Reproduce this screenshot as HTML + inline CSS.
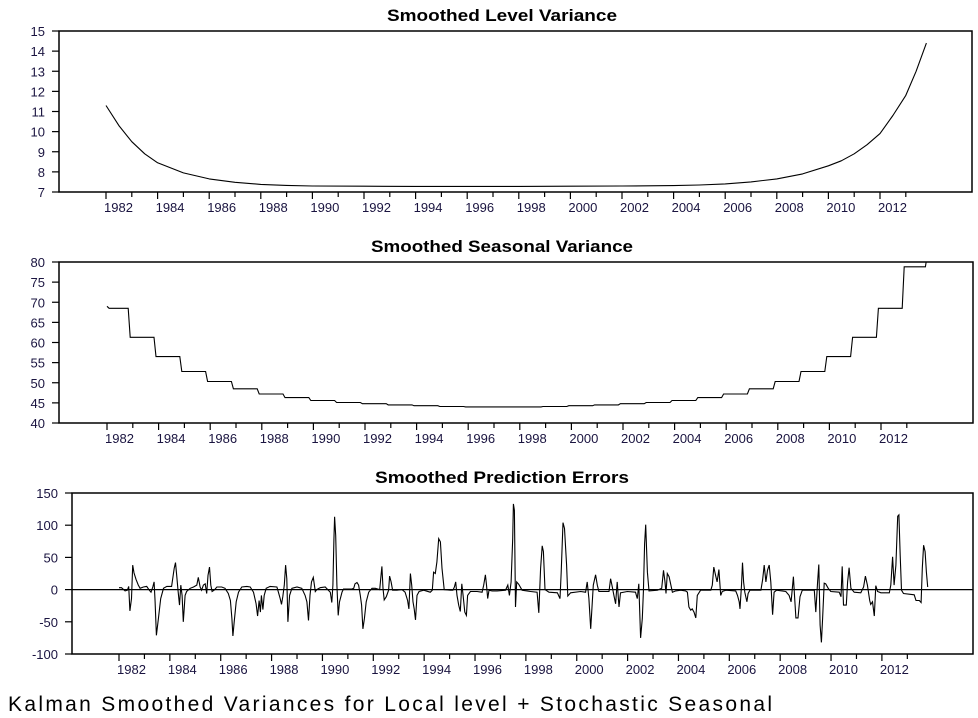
<!DOCTYPE html>
<html><head><meta charset="utf-8"><style>
body{margin:0;background:#fff}
svg{display:block;font-family:"Liberation Sans",Arial,sans-serif}
</style></head><body>
<svg id="c" width="978" height="718" viewBox="0 0 978 718">
<text x="387" y="21" font-size="17" font-weight="bold" textLength="230" lengthAdjust="spacingAndGlyphs">Smoothed Level Variance</text>
<text x="371" y="252" font-size="17" font-weight="bold" textLength="262" lengthAdjust="spacingAndGlyphs">Smoothed Seasonal Variance</text>
<text x="375" y="483" font-size="17" font-weight="bold" textLength="254" lengthAdjust="spacingAndGlyphs">Smoothed Prediction Errors</text>
<text x="8" y="711" font-size="21" textLength="764" lengthAdjust="spacing">Kalman Smoothed Variances for Local level + Stochastic Seasonal</text>
</svg>
<script>
// Top panel: smoothed level variance
const levelYears=[1982,1982.5,1983,1983.5,1984,1985,1986,1987,1988,1989,1990,1992,1994,1996,1998,2000,2002,2004,2005,2006,2007,2008,2009,2010,2010.5,2011,2011.5,2012,2012.5,2013,2013.4,2013.8];
const levelVals=[11.3,10.3,9.5,8.9,8.45,7.95,7.65,7.48,7.38,7.33,7.3,7.29,7.28,7.28,7.28,7.29,7.3,7.32,7.35,7.4,7.5,7.65,7.9,8.3,8.55,8.9,9.35,9.9,10.8,11.8,13.0,14.4];
const levelTicks=[7,8,9,10,11,12,13,14,15];
// Middle panel: seasonal variance, one level per year (step at ~year+0.85)
const seasYears=[1982,1983,1984,1985,1986,1987,1988,1989,1990,1991,1992,1993,1994,1995,1996,1997,1998,1999,2000,2001,2002,2003,2004,2005,2006,2007,2008,2009,2010,2011,2012,2013];
const seasVals=[68.5,61.3,56.5,52.8,50.3,48.5,47.2,46.3,45.6,45.1,44.8,44.5,44.3,44.1,44.0,44.0,44.0,44.1,44.3,44.5,44.8,45.1,45.6,46.3,47.2,48.5,50.3,52.8,56.5,61.3,68.5,78.8];
const seasTicks=[40,45,50,55,60,65,70,75,80];
// Bottom panel: prediction errors (year offsets from 1982, values)
const errT=[0,.10,.24,.33,.38,.43,.49,.54,.59,.67,.76,.83,.96,1.09,1.19,1.26,1.33,1.38,1.42,1.47,1.55,1.64,1.75,1.88,2.07,2.17,2.22,2.27,2.32,2.38,2.43,2.48,2.53,2.60,2.66,2.80,2.93,3.06,3.12,3.19,3.25,3.32,3.39,3.45,3.50,3.56,3.61,3.66,3.74,3.85,4.04,4.17,4.30,4.38,4.44,4.48,4.53,4.61,4.70,4.83,5.03,5.16,5.29,5.39,5.45,5.51,5.56,5.60,5.66,5.71,5.79,5.94,6.21,6.27,6.34,6.39,6.44,6.50,6.55,6.60,6.64,6.71,6.80,7.00,7.19,7.32,7.39,7.45,7.51,7.57,7.64,7.72,7.78,7.91,8.11,8.31,8.37,8.41,8.45,8.48,8.52,8.57,8.62,8.67,8.77,8.83,9.16,9.23,9.28,9.36,9.42,9.49,9.54,9.59,9.65,9.72,9.82,9.95,10.08,10.25,10.30,10.34,10.38,10.43,10.51,10.60,10.64,10.70,10.76,10.93,11.13,11.25,11.35,11.40,11.46,11.51,11.56,11.61,11.66,11.72,11.80,11.98,12.24,12.32,12.37,12.44,12.50,12.57,12.64,12.70,12.79,13.03,13.13,13.19,13.24,13.29,13.36,13.42,13.48,13.53,13.60,13.66,13.71,13.82,14.08,14.28,14.34,14.41,14.45,14.50,14.55,14.67,14.87,15.20,15.29,15.35,15.42,15.48,15.51,15.55,15.59,15.64,15.72,15.85,16.18,16.44,16.51,16.58,16.64,16.69,16.75,16.91,17.24,17.34,17.39,17.46,17.52,17.60,17.65,17.76,18.15,18.35,18.41,18.48,18.55,18.59,18.65,18.74,18.81,18.87,19.27,19.33,19.40,19.46,19.53,19.59,19.66,19.72,19.99,20.31,20.38,20.44,20.51,20.58,20.62,20.67,20.71,20.78,20.84,21.17,21.34,21.41,21.47,21.51,21.56,21.63,21.69,21.76,21.89,22.09,22.28,22.35,22.41,22.48,22.54,22.61,22.68,22.74,22.87,23.27,23.33,23.39,23.46,23.52,23.59,23.66,23.72,23.86,24.25,24.32,24.39,24.42,24.48,24.52,24.56,24.61,24.69,24.74,24.81,25.24,25.31,25.37,25.44,25.50,25.57,25.63,25.70,25.76,25.86,26.22,26.35,26.43,26.52,26.57,26.62,26.70,26.78,26.87,27.34,27.40,27.47,27.52,27.57,27.62,27.67,27.73,27.79,27.89,27.99,28.32,28.39,28.44,28.49,28.60,28.65,28.71,28.78,28.91,29.17,29.28,29.35,29.43,29.52,29.56,29.63,29.70,29.76,29.83,29.96,30.29,30.35,30.42,30.48,30.55,30.62,30.67,30.72,30.77,30.85,31.27,31.34,31.47,31.54,31.59,31.64,31.70,31.75,31.80];
const errVals=[3,3,-2,-1,5,-33,-14,38,26,16,7,2,4,5,-1,-4,4,12,-19,-71,-45,-14,2,5,5,33,42,22,-1,-24,7,-9,-50,-9,-3,2,4,7,19,4,-1,7,9,-6,22,35,7,-3,-1,4,4,2,-6,-17,-45,-72,-50,-19,-4,4,5,4,-4,-22,-41,-17,-35,-9,-31,-9,2,5,4,-4,-14,-23,-11,7,38,17,-50,-9,2,4,2,-9,-19,-48,-9,12,19,-3,0,3,4,-4,-20,7,77,113,84,7,-40,-19,-4,1,1,2,9,11,7,-9,-24,-61,-45,-19,-4,2,2,0,20,36,2,-16,-11,-1,21,12,-1,-1,0,-4,-17,-30,25,7,-19,-30,-47,-9,-3,-1,-4,-1,27,25,43,79,74,33,0,-1,-1,4,12,-9,-24,-34,9,-9,-35,-40,-9,-3,-3,-4,7,23,7,-14,-1,-2,-2,-1,7,-9,12,79,133,123,-27,12,8,-1,-3,-4,-36,33,68,59,0,-4,-5,-14,27,104,95,38,-10,-5,-3,-4,12,-14,-61,-35,7,23,7,-3,-3,17,4,-9,-22,12,-27,-5,-3,-4,-14,9,-75,-45,-3,71,101,27,-2,-1,2,30,12,-6,25,20,9,-4,-2,-1,-2,-4,-27,-32,-30,-35,-44,-9,-1,-1,7,35,22,12,31,-9,-3,-1,-2,-9,-19,-30,7,42,12,-4,-19,-6,-1,-1,15,38,12,30,38,12,-39,-4,-1,-3,-9,-19,20,-14,-44,-44,-11,-1,-1,-35,12,39,-55,-82,-45,10,9,2,-3,-4,-11,36,-24,-24,12,34,2,-4,-5,4,21,7,-17,-23,-19,-41,6,-3,-5,-5,7,51,7,38,114,116,53,-1,-6,-8,-17,-17,-20,33,69,59,27,4];
const errTicks=[-100,-50,0,50,100,150];
const yearLabels=[1982,1984,1986,1988,1990,1992,1994,1996,1998,2000,2002,2004,2006,2008,2010,2012];
const minorYears=[1983,1985,1987,1989,1991,1993,1995,1997,1999,2001,2003,2005,2007,2009,2011,2013];

const NS='http://www.w3.org/2000/svg';
const svg=document.getElementById('c');
function mk(tag,attrs,parent){const e=document.createElementNS(NS,tag);for(const k in attrs)e.setAttribute(k,attrs[k]);(parent||svg).appendChild(e);return e;}

function panel(name,box,x1982,pxYear,yTicks,yMin,yMax){
  const g=mk('g',{});
  
  
  const xs=y=>x1982+(y-1982)*pxYear;
  const ys=v=>box.b-(v-yMin)/(yMax-yMin)*(box.b-box.t);
  const frame=mk('rect',{x:box.l,y:box.t,width:box.r-box.l,height:box.b-box.t,fill:'none',stroke:'#000','stroke-width':1.5},g);
  
  
  yTicks.forEach(v=>{
    const y=ys(v);
    mk('line',{x1:box.l-7,x2:box.l,y1:y,y2:y,stroke:'#000','stroke-width':1.2},g);
    const t=mk('text',{x:box.l-14,y:y+5,'font-size':13,'text-anchor':'end',fill:'#1a1440'},g);
    t.textContent=v;
    
    
  });
  yearLabels.forEach(yr=>{
    const x=xs(yr);
    mk('line',{x1:x,x2:x,y1:box.b,y2:box.b+7,stroke:'#000','stroke-width':1.2},g);
    const t=mk('text',{x:x-2,y:box.b+20,'font-size':13,fill:'#1a1440'},g);
    t.textContent=yr;
    
    
  });
  minorYears.forEach(yr=>{
    const x=xs(yr);
    mk('line',{x1:x,x2:x,y1:box.b,y2:box.b+5,stroke:'#000','stroke-width':1.2},g);
  });
  return {g,xs,ys};
}

// Top
const P1=panel('level-variance',{l:59,r:972,t:31,b:192},106,25.8,levelTicks,7,15);
let d=levelYears.map((y,i)=>(i?'L':'M')+P1.xs(y).toFixed(1)+','+P1.ys(levelVals[i]).toFixed(1)).join('');
const l1=mk('path',{d:d,fill:'none',stroke:'#000','stroke-width':1.1,'stroke-linejoin':'round'},P1.g);



// Middle
const P2=panel('seasonal-variance',{l:59,r:973,t:262,b:423},107,25.8,seasTicks,40,80);
const cp=mk('clipPath',{id:'clip2'});mk('rect',{x:59,y:262,width:914,height:161},cp);
let d2='M'+P2.xs(1982).toFixed(1)+','+P2.ys(69).toFixed(1);
seasYears.forEach((y,i)=>{
  const v=seasVals[i];
  const start=i?y-0.15:y+0.03;
  d2+='L'+P2.xs(start+0.05).toFixed(1)+','+P2.ys(v).toFixed(1);
  const end=i<seasYears.length-1?y+0.82:2013.72;
  d2+='L'+P2.xs(end).toFixed(1)+','+P2.ys(v).toFixed(1);
});
d2+='L'+P2.xs(2013.85).toFixed(1)+','+P2.ys(84).toFixed(1);
const l2=mk('path',{d:d2,fill:'none',stroke:'#000','stroke-width':1.1,'clip-path':'url(#clip2)'},P2.g);



// Bottom
const P3=panel('prediction-errors',{l:72,r:973,t:493,b:654},119,25.43,errTicks,-100,150);
const z=mk('line',{x1:72,x2:973,y1:P3.ys(0),y2:P3.ys(0),stroke:'#000','stroke-width':1.2},P3.g);


let d3=errT.map((t,i)=>(i?'L':'M')+P3.xs(1982+t).toFixed(1)+','+P3.ys(errVals[i]).toFixed(1)).join('');
const l3=mk('path',{d:d3,fill:'none',stroke:'#000','stroke-width':1.1},P3.g);


</script>
</body></html>
